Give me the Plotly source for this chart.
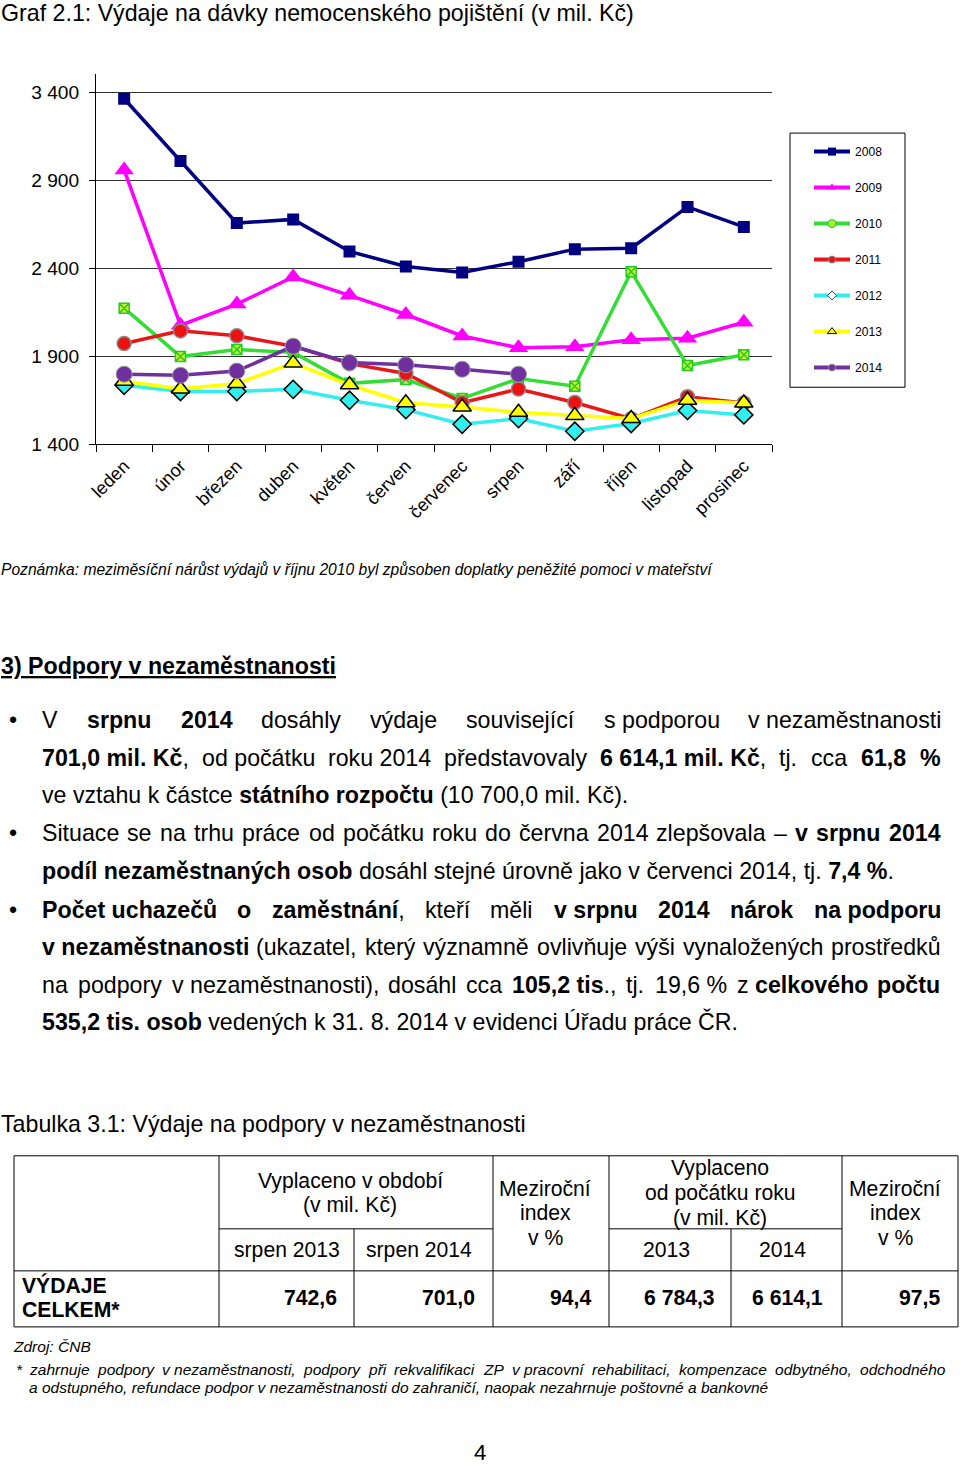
import re
import plotly.graph_objects as go

# ---------------- data ----------------
months = ["leden", "únor", "březen", "duben", "květen", "červen", "červenec",
          "srpen", "září", "říjen", "listopad", "prosinec"]
years = ["2008", "2009", "2010", "2011", "2012", "2013", "2014"]
v2008 = [3362, 3008, 2656, 2677, 2495, 2410, 2375, 2437, 2508, 2513, 2748, 2634]
v2009 = [2957, 2076, 2196, 2350, 2246, 2137, 2015, 1948, 1954, 1993, 2002, 2093]
v2010 = [2173, 1898, 1938, 1922, 1746, 1768, 1660, 1773, 1730, 2380, 1847, 1908]
v2011 = [1972, 2044, 2016, 1957, 1858, 1802, 1636, 1714, 1637, 1545, 1670, 1634]
v2012 = [1735, 1700, 1700, 1712, 1650, 1597, 1514, 1546, 1474, 1518, 1592, 1567]
v2013 = [1758, 1714, 1745, 1861, 1738, 1636, 1612, 1582, 1563, 1546, 1650, 1634]
v2014 = [1798, 1792, 1816, 1957, 1864, 1851, 1826, 1798, None, None, None, None]
ytick_vals = [1400, 1900, 2400, 2900, 3400]
ytick_text = ["1 400", "1 900", "2 400", "2 900", "3 400"]

tbl_period_cols = ["srpen 2013", "srpen 2014"]
tbl_ytd_cols = ["2013", "2014"]
tbl_row_label = ["VÝDAJE", "CELKEM*"]
tbl_values = ["742,6", "701,0", "94,4", "6 784,3", "6 614,1", "97,5"]

# ---------------- helpers ----------------
W, H = 960, 1468            # page coordinates used below (reference pixels)
FW, FH = 968, 1480          # figure size (page is photographed with a slight shrink)
S = FW / W
def X(px):
    return px / W
def Y(py):
    return 1 - py / H
def F(size):
    return size * S

REG = {' ': 278, ',': 278, '.': 278, ':': 278, '(': 333, ')': 333, '%': 889, '*': 389,
       '–': 556, '-': 333,
       'A': 667, 'B': 667, 'C': 722, 'D': 722, 'E': 667, 'F': 611, 'G': 778, 'H': 722, 'I': 278,
       'J': 500, 'K': 667, 'L': 556, 'M': 833, 'N': 722, 'O': 778, 'P': 667, 'R': 722, 'S': 667,
       'T': 611, 'U': 722, 'V': 667, 'Z': 611, 'Ú': 722, 'Č': 722, 'Ý': 667,
       'a': 556, 'b': 556, 'c': 500, 'd': 556, 'e': 556, 'f': 278, 'g': 556, 'h': 556, 'i': 222,
       'j': 222, 'k': 500, 'l': 222, 'm': 833, 'n': 556, 'o': 556, 'p': 556, 'q': 556, 'r': 333,
       's': 500, 't': 278, 'u': 556, 'v': 500, 'w': 722, 'x': 500, 'y': 500, 'z': 500,
       'á': 556, 'é': 556, 'í': 278, 'ý': 500, 'ú': 556, 'ů': 556, 'č': 500, 'ě': 556, 'š': 500,
       'ř': 333, 'ž': 500, 'ň': 556}
BOLD = {' ': 278, ',': 278, '.': 278, ':': 333, '(': 333, ')': 333, '%': 889, '*': 389,
        'A': 722, 'C': 722, 'D': 722, 'E': 667, 'K': 722, 'L': 611, 'M': 833, 'P': 667, 'V': 667,
        'Ý': 667, 'J': 556,
        'a': 556, 'b': 611, 'c': 556, 'd': 611, 'e': 556, 'f': 333, 'g': 611, 'h': 611, 'i': 278,
        'j': 278, 'k': 556, 'l': 278, 'm': 889, 'n': 611, 'o': 611, 'p': 611, 'r': 389, 's': 556,
        't': 333, 'u': 611, 'v': 556, 'y': 556, 'z': 500,
        'á': 556, 'é': 556, 'í': 278, 'ý': 556, 'ů': 611, 'č': 556, 'ě': 556, 'š': 556, 'ř': 389,
        'ž': 500, 'ň': 611}

annotations = []
shapes = []

def txt(px, py, text, size, xanchor="left", yanchor="middle"):
    annotations.append(dict(x=X(px), y=Y(py), xref="paper", yref="paper", text=text,
                            showarrow=False, xanchor=xanchor, yanchor=yanchor,
                            font=dict(size=F(size), color="black"), borderpad=0))

def runs_of(s):
    parts = s.split("**")
    return [(p, i % 2 == 1) for i, p in enumerate(parts) if p]

def tokens_of(s):
    toks = [[]]
    for t, b in runs_of(s):
        parts = t.split(" ")
        for i, p in enumerate(parts):
            if i > 0:
                toks.append([])
            if p:
                toks[-1].append((p, b))
    return [t for t in toks if t]

def html_of(runs, italic=False):
    h = "".join(("<b>%s</b>" % t if b else t) for t, b in runs).replace("~", " ")
    return "<i>%s</i>" % h if italic else h

def width_of(runs, size):
    tot = 0
    for t, b in runs:
        tab = BOLD if b else REG
        for ch in t.replace("~", " "):
            tot += tab.get(ch, 556)
    return tot * size / 1000.0

def justify(s, py, left, right, size, italic=False):
    toks = tokens_of(s)
    ws = [width_of(t, size) for t in toks]
    gap = (right - left - sum(ws)) / (len(toks) - 1)
    x = left
    for t, w in zip(toks, ws):
        txt(x, py, html_of(t, italic), size)
        x += w + gap

def plain(s, px, py, size, italic=False, xanchor="left"):
    txt(px, py, html_of(runs_of(s), italic), size, xanchor=xanchor)

def hline(x0, x1, y, w=1):
    shapes.append(dict(type="line", xref="paper", yref="paper", x0=X(x0), x1=X(x1),
                       y0=Y(y), y1=Y(y), line=dict(color="black", width=w)))

def vline(x, y0, y1, w=1):
    shapes.append(dict(type="line", xref="paper", yref="paper", x0=X(x), x1=X(x),
                       y0=Y(y0), y1=Y(y1), line=dict(color="black", width=w)))

# ---------------- chart traces ----------------
series = [v2008, v2009, v2010, v2011, v2012, v2013, v2014]
line_cols = ["#000080", "#ff00ff", "#33dd33", "#e81818", "#33eeee", "#ffff00", "#7030a0"]
mk = [
    dict(symbol="square", size=12, color="#000080", line=dict(color="#000080", width=0)),
    dict(symbol="triangle-up", size=17, color="#ff00ff", line=dict(width=0)),
    dict(symbol="square-x", size=10, color="#ccee33", line=dict(color="#22cc22", width=1.5)),
    dict(symbol="circle", size=14, color="#ee1111", line=dict(color="#888888", width=1.5)),
    dict(symbol="diamond", size=14, color="#33eeee", line=dict(color="black", width=1.5)),
    dict(symbol="triangle-up", size=16, color="#ffff00", line=dict(color="black", width=1.5)),
    dict(symbol="circle", size=16, color="#7030a0", line=dict(color="#999999", width=1)),
]
leg_mk = [
    dict(symbol="square", size=8, color="#000080"),
    dict(symbol="triangle-up", size=8, color="#ff00ff"),
    dict(symbol="circle", size=8, color="#aaee33", line=dict(color="#22cc22", width=1)),
    dict(symbol="circle", size=7, color="#ee1111", line=dict(color="#888888", width=1)),
    dict(symbol="diamond", size=7, color="#ffffff", line=dict(color="#1f4e79", width=1)),
    dict(symbol="triangle-up", size=8, color="#ffff00", line=dict(color="black", width=1)),
    dict(symbol="circle", size=7, color="#7030a0", line=dict(color="#999999", width=1)),
]

fig = go.Figure()
for yr, vals, lc, m in zip(years, series, line_cols, mk):
    fig.add_trace(go.Scatter(x=months, y=vals, mode="lines+markers", name=yr,
                             line=dict(color=lc, width=3.5), marker=m, showlegend=False))
for yr, lc, m in zip(years, line_cols, leg_mk):
    fig.add_trace(go.Scatter(x=[months[0]], y=[None], mode="lines+markers", name=yr,
                             line=dict(color=lc, width=4), marker=m, legendgroup=yr,
                             showlegend=True))

# legend box
shapes.append(dict(type="rect", xref="paper", yref="paper", x0=X(790), x1=X(905),
                   y0=Y(387), y1=Y(133), line=dict(color="black", width=1)))

# ---------------- page texts ----------------
plain("Graf 2.1: Výdaje na dávky nemocenského pojištění (v mil. Kč)", 0, 13, 23)
plain("Poznámka: meziměsíční nárůst výdajů v říjnu 2010 byl způsoben doplatky peněžité pomoci v mateřství",
      0, 569, 15.5, italic=True)
txt(0, 666, "<b><u>3) Podpory v nezaměstnanosti</u></b>", 23)

FS = 23
L, R = 41, 939
for by in (720, 832, 909):
    txt(13, by, "•", FS, xanchor="center")
justify("V **srpnu** **2014** dosáhly výdaje související s~podporou v~nezaměstnanosti", 720, L, R, FS)
justify("**701,0~mil.~Kč**, od~počátku roku~2014 představovaly **6~614,1~mil.~Kč**, tj. cca **61,8** **%**",
        757, L, R, FS)
plain("ve vztahu k částce **státního rozpočtu** (10 700,0 mil. Kč).", L, 794, FS)
justify("Situace se na trhu práce od počátku roku do června 2014 zlepšovala – **v srpnu 2014**",
        832, L, R, FS)
plain("**podíl nezaměstnaných osob** dosáhl stejné úrovně jako v červenci 2014, tj. **7,4 %**.", L, 870, FS)
justify("**Počet~uchazečů** **o** **zaměstnání**, kteří měli **v~srpnu** **2014** **nárok** **na~podporu**",
        909, L, R, FS)
justify("**v~nezaměstnanosti** (ukazatel, který významně ovlivňuje výši vynaložených prostředků",
        946, L, R, FS)
justify("na podpory v~nezaměstnanosti), dosáhl cca **105,2~tis**., tj. 19,6~% z~**celkového** **počtu**",
        984, L, R, FS)
plain("**535,2 tis. osob** vedených k 31. 8. 2014 v evidenci Úřadu práce ČR.", L, 1021, FS)

plain("Tabulka 3.1: Výdaje na podpory v nezaměstnanosti", 0, 1123, FS)

# ---------------- table ----------------
TF = 21
hline(14, 958, 1155)
hline(219, 493, 1228)
hline(609, 842, 1228)
hline(14, 958, 1270)
hline(14, 958, 1326)
for vx in (14, 219, 493, 609, 842, 958):
    vline(vx, 1155, 1326)
for vx in (354, 731):
    vline(vx, 1228, 1326)

txt(350, 1180, "Vyplaceno v období", TF, xanchor="center")
txt(350, 1204, "(v mil. Kč)", TF, xanchor="center")
for cx in (545, 895):
    txt(cx, 1188, "Meziroční", TF, xanchor="center")
    txt(cx, 1212, "index", TF, xanchor="center")
    txt(cx, 1237, "v %", TF, xanchor="center")
txt(720, 1167, "Vyplaceno", TF, xanchor="center")
txt(720, 1192, "od počátku roku", TF, xanchor="center")
txt(720, 1217, "(v mil. Kč)", TF, xanchor="center")
for cx, lab in zip((287, 419), tbl_period_cols):
    txt(cx, 1249, lab, TF, xanchor="center")
for cx, lab in zip((666, 782), tbl_ytd_cols):
    txt(cx, 1249, lab, TF, xanchor="center")
txt(21, 1284, "<b>%s</b>" % tbl_row_label[0], TF)
txt(21, 1309, "<b>%s</b>" % tbl_row_label[1], TF)
for rx, val in zip((338, 476, 592, 716, 824, 941), tbl_values):
    txt(rx, 1297, "<b>%s</b>" % val, TF, xanchor="right")

# ---------------- footnotes ----------------
NF = 15.4
plain("Zdroj: ČNB", 12, 1346, NF, italic=True)
txt(15, 1369, "<i>*</i>", NF)
justify("zahrnuje podpory v~nezaměstnanosti, podpory při rekvalifikaci ZP v~pracovní rehabilitaci, kompenzace odbytného, odchodného",
        1369, 28, 944, NF, italic=True)
plain("a odstupného, refundace podpor v nezaměstnanosti do zahraničí, naopak nezahrnuje poštovné a bankovné",
      28, 1387, NF, italic=True)
txt(480, 1452, "4", 22, xanchor="center")

# ---------------- layout ----------------
fig.update_layout(
    width=FW, height=FH, autosize=False,
    margin=dict(l=0, r=0, t=0, b=0),
    paper_bgcolor="white", plot_bgcolor="white",
    font=dict(family="Liberation Sans, Arial, sans-serif", color="black"),
    xaxis=dict(domain=[X(96), X(772)], type="category", range=[-0.5, 11.5],
               showgrid=False, showline=True, linecolor="black", linewidth=1,
               ticks="outside", tickson="boundaries", ticklen=7, tickcolor="black",
               tickangle=-45, tickfont=dict(size=F(18)), ticklabelstandoff=3, zeroline=False),
    yaxis=dict(domain=[Y(444), Y(74.4)], range=[1400, 3500],
               tickvals=ytick_vals, ticktext=ytick_text,
               showgrid=True, gridcolor="#333333", gridwidth=1,
               showline=True, linecolor="black", linewidth=1,
               ticks="outside", ticklen=6, tickcolor="black",
               tickfont=dict(size=F(19)), ticklabelstandoff=6, zeroline=False),
    showlegend=True,
    legend=dict(x=X(809), y=Y(137), xanchor="left", yanchor="top",
                bgcolor="rgba(0,0,0,0)", borderwidth=0,
                font=dict(size=F(12), color="black"),
                traceorder="grouped", tracegroupgap=17, itemwidth=36),
    annotations=annotations,
    shapes=shapes,
)

fig.write_html("out.html", config={"displayModeBar": False},
               post_script="document.body.style.margin='0';document.body.style.marginLeft='-8px';document.body.style.overflow='hidden';")
